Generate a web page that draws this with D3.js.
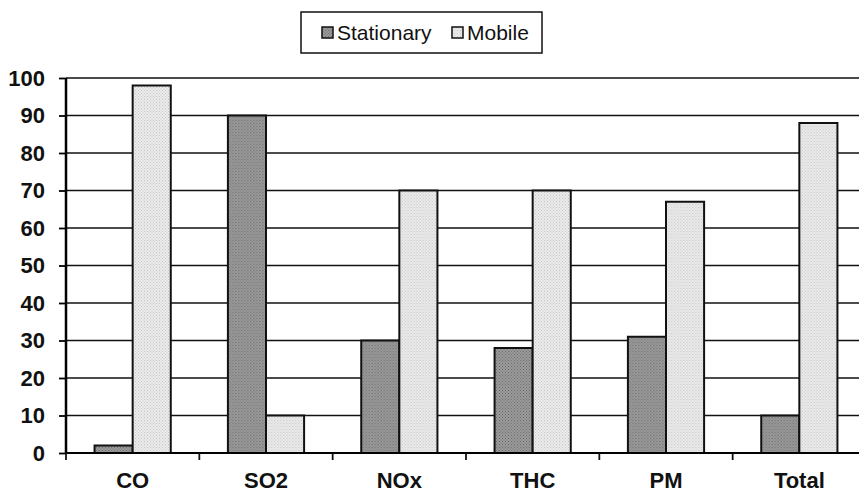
<!DOCTYPE html>
<html>
<head>
<meta charset="utf-8">
<script src="https://cdn.jsdelivr.net/npm/d3@7"></script>
<style>
body { margin: 0; background: #fff; }
text { font-family: "Liberation Sans", Arial, sans-serif; }
</style>
</head>
<body>
<div id="chart"></div>
<script>
const categories = ["CO", "SO2", "NOx", "THC", "PM", "Total"]
const seriesNames = ["Stationary", "Mobile"]
const stationary = [2, 90, 30, 28, 31, 10]
const mobile = [98, 10, 70, 70, 67, 88]
const yTicks = [0, 10, 20, 30, 40, 50, 60, 70, 80, 90, 100]

const margin = {top: 78, right: -7, bottom: 40, left: 66}
const W = 859, H = 493
const width = W - margin.left - margin.right
const height = H - margin.top - margin.bottom

const data = categories.map((c, i) => ({cat: c, Stationary: stationary[i], Mobile: mobile[i]}))

const root = d3.select("#chart").append("svg")
    .attr("width", W)
    .attr("height", H)

const defs = root.append("defs")
function dotPattern(id, bg, dot) {
    const p = defs.append("pattern")
        .attr("id", id)
        .attr("width", 3).attr("height", 3)
        .attr("patternUnits", "userSpaceOnUse")
    p.append("rect").attr("width", 3).attr("height", 3).attr("fill", bg)
    p.append("rect").attr("x", 0).attr("y", 0).attr("width", 1).attr("height", 1).attr("fill", dot)
    p.append("rect").attr("x", 1.5).attr("y", 1.5).attr("width", 1).attr("height", 1).attr("fill", dot)
}
dotPattern("pat-stat", "#9a9a9a", "#6e6e6e")
dotPattern("pat-mob", "#ececec", "#c4c4c4")
const fills = {Stationary: "url(#pat-stat)", Mobile: "url(#pat-mob)"}

const svg = root.append("g")
    .attr("transform", "translate(" + margin.left + "," + margin.top + ")")

const x0 = d3.scaleBand()
    .domain(categories)
    .range([0, 800])
    .padding(0)

const x1 = d3.scaleBand()
    .domain(seriesNames)
    .range([0, x0.bandwidth()])
    .paddingInner(0)
    .paddingOuter(0.75)

const y = d3.scaleLinear()
    .domain([0, 100])
    .range([height, 0])

// gridlines
svg.selectAll(".grid")
    .data(yTicks.filter(d => d > 0))
    .enter().append("line")
    .attr("x1", 0).attr("x2", width + 20)
    .attr("y1", d => y(d)).attr("y2", d => y(d))
    .attr("stroke", "#111")
    .attr("stroke-width", 1.5)

// bars
const groups = svg.selectAll(".grp")
    .data(data)
    .enter().append("g")
    .attr("transform", d => "translate(" + x0(d.cat) + ",0)")

groups.selectAll("rect")
    .data(d => seriesNames.map(k => ({key: k, value: d[k]})))
    .enter().append("rect")
    .attr("x", d => x1(d.key))
    .attr("y", d => y(d.value))
    .attr("width", x1.bandwidth())
    .attr("height", d => height - y(d.value))
    .attr("fill", d => fills[d.key])
    .attr("stroke", "#111")
    .attr("stroke-width", 2)

// y axis
const yAxis = d3.axisLeft(y).tickValues(yTicks).tickSize(7).tickPadding(14)
const gy = svg.append("g").call(yAxis)
gy.select(".domain").attr("stroke-width", 2.5).attr("d", "M0," + height + "V0")
gy.selectAll(".tick line").attr("stroke-width", 1.8)
gy.selectAll("text")
    .attr("font-size", 22).attr("font-weight", "bold")
    .attr("font-family", "'Liberation Sans', Arial, sans-serif")
    .attr("fill", "#111")

// x axis
const xAxis = d3.axisBottom(x0).tickSize(0).tickPadding(19)
const gx = svg.append("g")
    .attr("transform", "translate(0," + height + ")")
    .call(xAxis)
gx.select(".domain").attr("stroke-width", 2).attr("d", "M0,0H" + (width + 20))
gx.selectAll("text")
    .attr("font-size", 22).attr("font-weight", "bold")
    .attr("font-family", "'Liberation Sans', Arial, sans-serif")
    .attr("fill", "#111")

svg.selectAll(".xtick")
    .data(categories)
    .enter().append("line")
    .attr("x1", d => x0(d)).attr("x2", d => x0(d))
    .attr("y1", height).attr("y2", height + 7)
    .attr("stroke", "#111")
    .attr("stroke-width", 1.8)

// legend
const legend = root.append("g").attr("transform", "translate(301,12)")
legend.append("rect")
    .attr("width", 241).attr("height", 41)
    .attr("fill", "#fff")
    .attr("stroke", "#111")
    .attr("stroke-width", 1.5)
const legX = [21, 151]
seriesNames.forEach((k, i) => {
    legend.append("rect")
        .attr("x", legX[i]).attr("y", 15)
        .attr("width", 11).attr("height", 11)
        .attr("fill", fills[k])
        .attr("stroke", "#111")
        .attr("stroke-width", 1.5)
    legend.append("text")
        .attr("x", legX[i] + 15).attr("y", 28)
        .attr("font-size", 21)
        .attr("fill", "#111")
        .text(k)
})
</script>
</body>
</html>
